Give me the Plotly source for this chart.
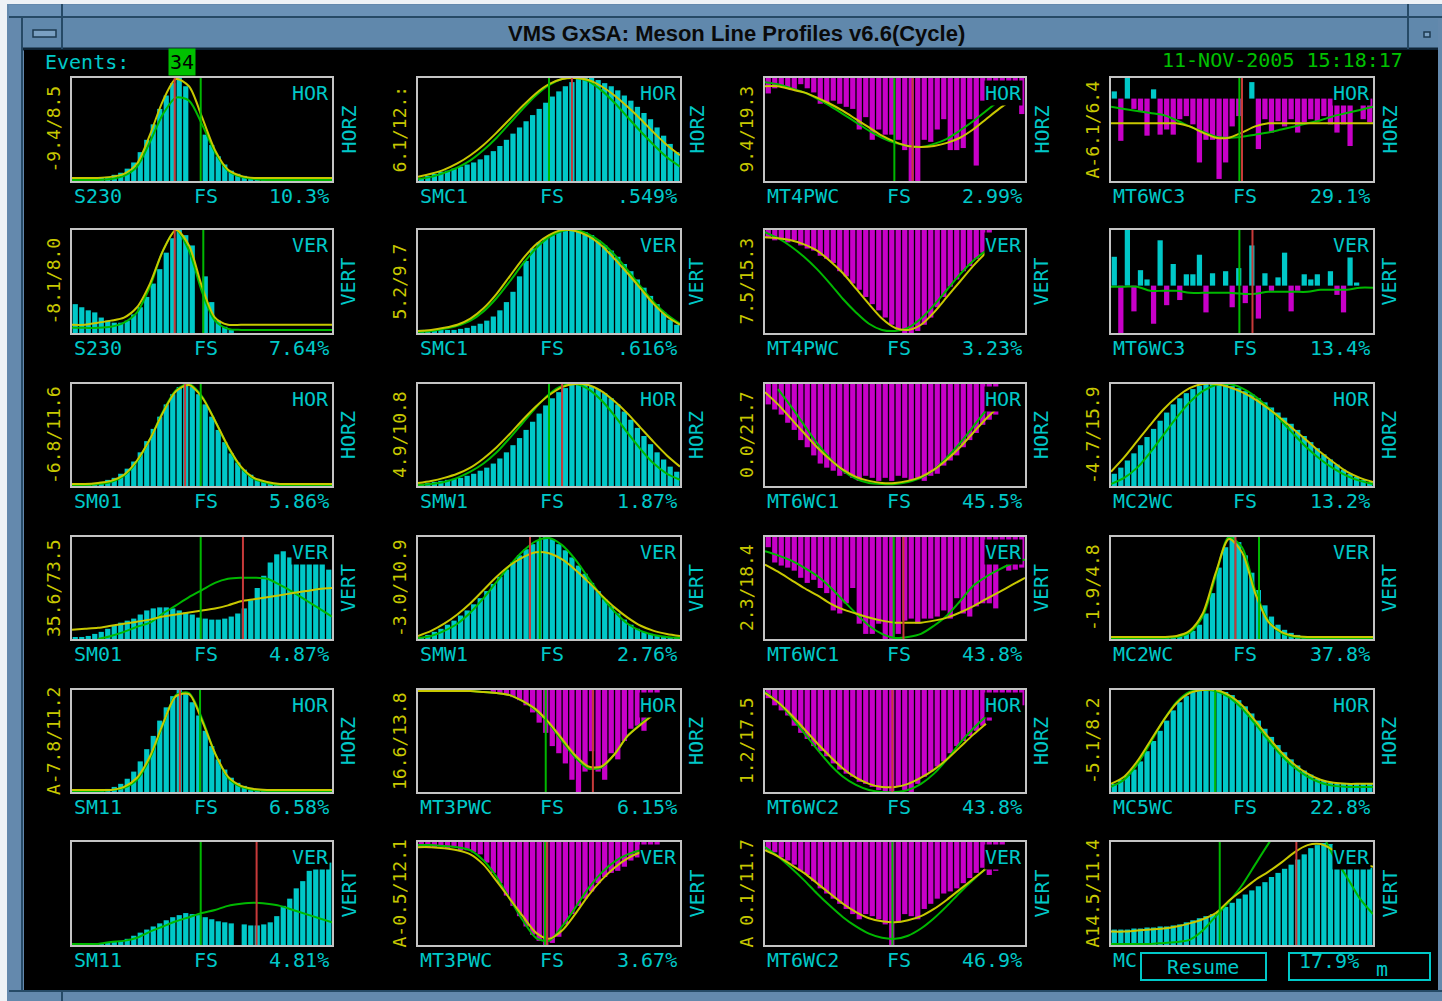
import plotly.graph_objects as go

# ---------------- DATA ----------------
# panel order: row-major, 6 rows x 4 columns
NAMES = ["S230", "SMC1", "MT4PWC", "MT6WC3",
         "S230", "SMC1", "MT4PWC", "MT6WC3",
         "SM01", "SMW1", "MT6WC1", "MC2WC",
         "SM01", "SMW1", "MT6WC1", "MC2WC",
         "SM11", "MT3PWC", "MT6WC2", "MC5WC",
         "SM11", "MT3PWC", "MT6WC2", "MC"]
PCTS = ["10.3%", ".549%", "2.99%", "29.1%",
        "7.64%", ".616%", "3.23%", "13.4%",
        "5.86%", "1.87%", "45.5%", "13.2%",
        "4.87%", "2.76%", "43.8%", "37.8%",
        "6.58%", "6.15%", "43.8%", "22.8%",
        "4.81%", "3.67%", "46.9%", ""]
RANGES = ["-9.4/8.5", "6.1/12.:", "9.4/19.3", "A-6.1/6.4",
          "-8.1/8.0", "5.2/9.7", "7.5/15.3", "",
          "-6.8/11.6", "4.9/10.8", "0.0/21.7", "-4.7/15.9",
          "35.6/73.5", "-3.0/10.9", "2.3/18.4", "-1.9/4.8",
          "A-7.8/11.2", "16.6/13.8", "1.2/17.5", "-5.1/8.2",
          "", "A-0.5/12.1", "A 0.1/11.7", "A14.5/11.4"]
PLANES = ["HOR", "VER", "HOR", "VER", "HOR", "VER"]
PLANE_SIDE = ["HORZ", "VERT", "HORZ", "VERT", "HORZ", "VERT"]

# bar zero level (fraction of panel height) and direction (1 = up, -1 = hanging down)
BASELINES = [0, 0, 1, 0.8,
             0, 0, 1, 0.46,
             0, 0, 1, 0,
             0, 0, 1, 0,
             0, 1, 1, 0,
             0, 1, 1, 0]
DIRS = [1, 1, -1, 1,
        1, 1, -1, 1,
        1, 1, -1, 1,
        1, 1, -1, 1,
        1, -1, -1, 1,
        1, -1, -1, 1]

# green / red marker positions (bin units)
GREEN_MARK = [19.8, 20.0, 19.9, 19.6,
              20.2, None, None, 19.6,
              19.8, 20.0, None, None,
              19.8, 18.6, 19.8, 22.6,
              19.7, 19.5, None, 15.9,
              19.8, 19.4, 19.6, 16.6]
RED_MARK = [15.8, 23.5, 22.7, 20.0,
            15.8, None, None, 21.6,
            17.4, 22.0, None, None,
            26.3, 17.1, 21.3, 19.0,
            16.6, 26.7, 19.6, None,
            28.4, 19.7, None, 28.3]

# histogram bins (percent of panel height)
bars_s230_h = [2,2,2,2,3,4,6,8,12,18,28,40,55,70,83,95,100,92,0,0,45,35,24,16,10,7,5,3,2,2,2,1,1,1,1,1,1,1,1,1]
bars_smc1_h = [3,5,7,9,10,12,14,16,18,21,25,29,34,40,46,52,58,64,70,76,82,87,92,96,99,100,100,98,95,92,88,83,78,72,66,60,52,44,36,28]
bars_mt4pwc_h = [15,10,8,10,12,6,10,14,25,25,22,25,28,30,50,38,60,50,55,55,60,70,100,100,60,62,50,40,70,70,68,40,85,22,25,25,15,18,20,35]
bars_mt6wc3_h = [7,-41,20,-10,-12,-36,9,-35,-30,-35,-20,-17,-25,-62,-40,-40,-78,-62,-27,-17,0,16,-49,-20,-33,-22,-27,-20,-33,-23,-20,-22,-17,-25,-33,-25,-46,-5,-20,-23]
bars_s230_v = [28,25,22,20,15,12,10,10,12,18,25,35,48,62,78,92,100,95,85,0,55,30,12,6,3,0,0,0,0,0,0,0,0,0,0,0,0,0,0,0]
bars_smc1_v = [3,3,3,3,3,3,4,5,7,9,12,16,22,30,40,55,70,82,88,92,95,98,100,100,100,98,95,90,85,80,74,67,60,52,44,36,28,20,13,8]
bars_mt4pwc_v = [8,10,8,12,10,15,18,20,25,28,32,40,45,52,58,65,72,78,85,92,97,100,100,98,92,85,75,65,55,48,40,35,28,22,18,0,0,0,0,0]
bars_mt6wc3_v = [28,-46,54,-25,15,6,-37,44,-19,21,-14,11,11,30,-26,12,0,14,-21,17,-17,39,-32,12,-5,8,32,-25,-5,11,6,11,0,14,-9,-26,32,3,0,0]
bars_sm01_h = [2,2,2,3,4,6,8,12,17,24,33,44,56,68,80,90,97,100,97,90,80,68,55,43,32,23,16,11,7,5,3,2,2,2,2,2,2,2,2,2]
bars_smw1_h = [2,3,4,5,6,7,8,10,12,15,18,22,27,33,40,47,55,63,71,79,86,92,96,99,100,100,98,95,91,86,80,73,65,57,49,41,33,26,19,14]
bars_mt6wc1_h = [20,25,30,38,45,55,62,70,78,82,85,90,88,92,95,90,92,95,92,95,90,92,95,92,95,90,88,80,75,70,62,55,48,40,35,30,0,0,0,0]
bars_mc2wc_h = [12,18,25,32,40,48,56,64,72,80,86,91,95,98,100,100,100,100,98,96,93,90,86,82,77,72,67,61,55,49,43,37,31,26,21,16,12,9,6,4]
bars_sm01_v = [1,2,3,5,7,10,13,16,18,20,24,28,30,31,31,30,28,26,24,21,20,19,19,20,22,25,30,38,50,62,75,83,86,80,79,79,79,79,75,68]
bars_smw1_v = [2,4,7,10,14,18,23,28,34,40,47,54,61,68,75,82,88,93,97,100,98,93,87,80,72,64,55,47,39,32,25,19,14,10,7,5,4,3,2,2]
bars_mt6wc1_v = [10,25,28,30,33,40,45,42,50,55,72,75,65,50,85,95,95,85,100,100,95,82,80,85,80,80,78,72,80,60,75,78,68,65,65,70,25,33,32,30]
bars_mc2wc_v = [1,1,1,1,1,1,1,1,2,2,3,5,8,14,25,45,70,90,100,95,82,65,48,33,22,14,9,6,4,3,2,2,2,2,2,2,2,2,2,2]
bars_sm11_h = [1,1,1,1,2,3,5,8,13,20,30,42,55,70,83,94,100,97,88,75,60,45,32,22,14,9,6,4,3,2,2,2,2,2,2,2,2,2,2,2]
bars_mt3pwc_h = [0,0,0,0,0,0,0,0,0,0,0,3,3,5,7,10,15,22,32,42,55,62,72,88,100,80,60,80,88,62,68,50,38,35,40,25,20,0,0,0]
bars_mt6wc2_h = [8,15,20,25,35,42,48,55,60,65,72,78,82,85,90,92,95,98,100,100,95,98,100,92,85,80,75,70,62,55,50,45,40,35,30,25,20,15,10,15]
bars_mc5wc_h = [8,12,16,22,30,40,50,60,70,80,88,94,98,100,100,100,100,98,95,90,84,77,70,62,54,46,39,32,26,21,17,13,11,9,8,8,8,8,8,8]
bars_sm11_v = [1,1,1,1,1,2,3,4,6,9,12,15,18,21,24,27,29,31,30,29,27,25,23,22,21,0,20,19,19,20,22,28,38,45,55,62,72,80,80,80]
bars_mt3pwc_v = [5,6,5,4,6,5,8,8,10,12,20,30,40,52,62,72,82,90,96,100,98,92,80,70,62,55,48,40,34,30,28,24,18,15,12,10,8,0,0,0]
bars_mt6wc2_v = [8,10,15,18,22,28,32,38,45,50,55,60,65,70,75,70,72,75,80,100,78,70,72,75,65,60,55,50,48,45,40,35,30,25,32,28,20,0,0,0]
bars_mc5wc_v = [15,15,15,16,16,17,17,18,18,19,20,22,24,26,28,30,33,37,41,45,49,53,57,61,66,70,74,78,83,88,94,97,99,98,90,80,79,78,76,75]

# fitted curves (percent of panel height), sampled every 2 bins
yel_s230_h = [3,3,3,4,7,17,45,78,99,92,62,30,11,5,3,3,3,3,3,3,3]
grn_s230_h = [1,1,1,2,5,14,38,65,81,78,55,28,10,4,2,1,1,1,1,1,1]
yel_smc1_h = [4,7,11,17,25,35,47,60,73,85,94,99,100,98,92,83,72,60,47,35,25]
grn_smc1_h = [2,4,8,13,20,30,42,56,70,83,93,99,100,97,88,76,62,48,35,23,14]
yel_mt4pwc_h = [92,92,89,86,81,75,68,60,52,44,38,34,33,34,37,42,50,60,70,79,None]
grn_mt4pwc_h = [96,94,90,86,80,73,65,57,49,42,37,34,33,36,41,49,58,68,78,None,None]
yel_mt6wc3_h = [56,56,56,56,56,56,53,47,42,42,47,53,56,56,56,56,56,56,56,56,56]
grn_mt6wc3_h = [72,70,68,66,64,59,53,48,43,42,43,45,47,50,53,56,59,63,66,69,72]
yel_s230_v = [8,8,10,12,15,25,48,80,100,85,45,15,8,8,8,8,8,8,8,8,8]
grn_s230_v = [5,5,5,6,10,20,45,80,100,80,40,12,4,3,3,3,3,3,3,3,3]
yel_smc1_v = [2,3,5,8,14,24,38,55,72,86,95,100,99,94,85,72,58,43,28,16,8]
grn_smc1_v = [1,2,4,7,12,21,34,50,67,82,93,99,100,96,88,76,61,45,30,18,9]
yel_mt4pwc_v = [93,92,90,86,80,70,58,43,28,14,5,3,8,20,35,50,65,78,None,None,None]
grn_mt4pwc_v = [98,92,84,74,62,48,33,20,9,3,2,5,14,27,42,57,70,80,None,None,None]
yel_mt6wc3_v = None
grn_mt6wc3_v = [45,45,45,41,41,41,39,39,39,39,38,38,40,40,40,40,42,42,42,44,44]
yel_sm01_h = [2,2,3,5,11,25,46,72,93,99,87,64,39,19,8,4,2,2,2,2,2]
grn_sm01_h = [1,1,2,4,10,24,46,73,94,100,88,64,38,18,7,3,1,1,1,1,1]
yel_smw1_h = [3,5,8,12,18,27,38,51,65,78,89,97,100,99,93,83,71,57,43,30,19]
grn_smw1_h = [1,2,4,8,14,22,33,47,62,77,90,98,100,95,84,69,52,36,22,12,6]
yel_mt6wc1_h = [92,80,66,52,38,26,16,9,5,3,3,5,9,16,26,38,52,66,78,None,None]
grn_mt6wc1_h = [None,95,78,60,42,27,15,7,3,2,2,4,8,16,28,42,58,74,88,None,None]
yel_mc2wc_h = [14,28,44,60,75,87,96,100,100,97,92,85,76,66,55,44,33,23,14,8,4]
grn_mc2wc_h = [2,8,18,33,50,67,82,93,99,100,96,88,77,64,50,37,26,17,10,5,2]
yel_sm01_v = [9,10,11,13,15,17,19,22,24,26,28,30,33,37,39,41,43,45,47,49,50]
grn_sm01_v = [None,None,0,3,7,12,16,25,33,41,48,55,59,60,60,59,53,46,38,30,22]
yel_smw1_v = [3,8,15,24,35,48,61,72,80,85,84,78,68,56,43,31,21,13,8,5,3]
grn_smw1_v = [1,3,8,15,26,40,56,72,86,96,99,92,78,60,42,27,15,8,4,2,1]
yel_mt6wc1_v = [73,66,58,50,43,35,29,25,21,18,16,16,16,18,21,26,32,39,46,53,60]
grn_mt6wc1_v = [86,82,77,70,62,51,38,25,13,5,1,2,5,13,23,37,52,61,68,74,78]
yel_mc2wc_v = [2,2,2,2,2,3,8,25,65,98,85,45,17,7,3,2,2,2,2,2,2]
grn_mc2wc_v = [1,1,1,1,1,2,6,22,62,100,90,48,18,6,2,1,1,1,1,1,1]
yel_sm11_h = [2,2,2,2,5,14,35,67,94,96,70,38,15,6,3,2,2,2,2,2,2]
grn_sm11_h = [1,1,1,2,4,12,33,66,95,97,72,38,14,5,2,1,1,1,1,1,1]
yel_mt3pwc_h = [99,99,99,99,99,98,97,95,89,81,68,52,36,25,25,37,55,66,76,None,None]
grn_mt3pwc_h = [99,99,99,99,99,98,97,95,89,80,67,50,34,23,24,37,55,67,77,None,None]
yel_mt6wc2_h = [97,88,76,62,48,35,23,14,8,5,5,8,14,22,32,44,56,67,None,None,None]
grn_mt6wc2_h = [98,88,74,58,42,27,15,7,2,0,0,2,8,18,32,48,62,74,84,92,None]
yel_mc5wc_h = [8,15,30,50,70,87,97,100,100,95,85,70,54,39,27,18,12,9,8,8,8]
grn_mc5wc_h = [5,12,27,48,70,88,98,100,99,93,82,67,51,36,24,15,9,6,5,5,5]
yel_sm11_v = None
grn_sm11_v = [1,1,1,3,4,7,13,18,23,27,31,34,38,40,41,40,38,34,30,26,22]
yel_mt3pwc_v = [95,95,94,92,88,78,62,45,28,12,6,14,30,48,63,75,84,90,93,None,None]
grn_mt3pwc_v = [97,97,96,95,92,82,66,45,24,7,4,18,36,55,70,81,88,92,94,None,None]
yel_mt6wc2_v = [92,86,78,70,60,50,40,32,26,23,22,24,28,35,44,54,64,74,82,None,None]
grn_mt6wc2_v = [95,86,75,63,50,38,27,18,11,7,6,9,16,26,38,51,63,74,82,None,None]
yel_mc5wc_v = [13,13,14,15,16,18,21,25,31,43,53,63,71,80,90,97,98,92,85,80,76]
grn_mc5wc_v = [1,1,1,1,2,3,5,14,28,42,58,78,98,115,125,125,110,86,66,45,30]

BARS = [bars_s230_h, bars_smc1_h, bars_mt4pwc_h, bars_mt6wc3_h,
        bars_s230_v, bars_smc1_v, bars_mt4pwc_v, bars_mt6wc3_v,
        bars_sm01_h, bars_smw1_h, bars_mt6wc1_h, bars_mc2wc_h,
        bars_sm01_v, bars_smw1_v, bars_mt6wc1_v, bars_mc2wc_v,
        bars_sm11_h, bars_mt3pwc_h, bars_mt6wc2_h, bars_mc5wc_h,
        bars_sm11_v, bars_mt3pwc_v, bars_mt6wc2_v, bars_mc5wc_v]
YEL = [yel_s230_h, yel_smc1_h, yel_mt4pwc_h, yel_mt6wc3_h,
       yel_s230_v, yel_smc1_v, yel_mt4pwc_v, yel_mt6wc3_v,
       yel_sm01_h, yel_smw1_h, yel_mt6wc1_h, yel_mc2wc_h,
       yel_sm01_v, yel_smw1_v, yel_mt6wc1_v, yel_mc2wc_v,
       yel_sm11_h, yel_mt3pwc_h, yel_mt6wc2_h, yel_mc5wc_h,
       yel_sm11_v, yel_mt3pwc_v, yel_mt6wc2_v, yel_mc5wc_v]
GRN = [grn_s230_h, grn_smc1_h, grn_mt4pwc_h, grn_mt6wc3_h,
       grn_s230_v, grn_smc1_v, grn_mt4pwc_v, grn_mt6wc3_v,
       grn_sm01_h, grn_smw1_h, grn_mt6wc1_h, grn_mc2wc_h,
       grn_sm01_v, grn_smw1_v, grn_mt6wc1_v, grn_mc2wc_v,
       grn_sm11_h, grn_mt3pwc_h, grn_mt6wc2_h, grn_mc5wc_h,
       grn_sm11_v, grn_mt3pwc_v, grn_mt6wc2_v, grn_mc5wc_v]

NBINS = 40
BAR_X = [i + 0.5 for i in range(NBINS)]
CURVE_X = list(range(0, NBINS + 1, 2))

TITLE = "VMS GxSA: Meson Line Profiles v6.6(Cycle)"
EVENTS = "34"
STAMP = "11-NOV-2005 15:18:17"

# ---------------- LAYOUT / STYLE ----------------
W, H = 1442, 1001
COL_X = [(72, 332), (418, 680), (765, 1025), (1111, 1373)]
ROW_Y = [(78, 181), (230, 333), (384, 486), (537, 639), (690, 792), (842, 945)]

CYAN = "#00c8c8"
MAG = "#c800c8"
GRNC = "#00b800"
YELC = "#c8c800"
REDC = "#c83a3a"
GREY = "#c4c4c4"
FRAME = "#6489ad"
MONO = "DejaVu Sans Mono"
FS = 20


def X(p):
    return p / W


def Y(p):
    return 1 - p / H


fig = go.Figure()
layout = {}
ann = []
shapes = []


def text(px, py, s, font, xanchor="center", yanchor="middle", **kw):
    ann.append(dict(x=X(px), y=Y(py), xref="paper", yref="paper", text=s,
                    showarrow=False, xanchor=xanchor, yanchor=yanchor,
                    font=font, **kw))


for r in range(6):
    for c in range(4):
        k = r * 4 + c
        n = k + 1
        xa = "x" if n == 1 else f"x{n}"
        ya = "y" if n == 1 else f"y{n}"
        x0, x1 = COL_X[c]
        y0, y1 = ROW_Y[r]
        ax = dict(showline=True, mirror=True, linecolor=GREY, linewidth=2,
                  showgrid=False, zeroline=False, showticklabels=False,
                  ticks="", fixedrange=True)
        layout["xaxis" if n == 1 else f"xaxis{n}"] = dict(
            domain=[X(x0), X(x1)], range=[0, NBINS], anchor=ya, **ax)
        layout["yaxis" if n == 1 else f"yaxis{n}"] = dict(
            domain=[Y(y1), Y(y0)], range=[0, 1], anchor=xa, **ax)

        ys = [DIRS[k] * v / 100 for v in BARS[k]]
        cols = [CYAN if v > 0 else MAG for v in ys]
        fig.add_trace(go.Bar(x=BAR_X, y=ys, base=BASELINES[k], width=0.8,
                             marker=dict(color=cols, line=dict(width=0)),
                             xaxis=xa, yaxis=ya, showlegend=False,
                             hoverinfo="skip"))
        for curve, col in ((GRN[k], GRNC), (YEL[k], YELC)):
            if curve is None:
                continue
            fig.add_trace(go.Scatter(
                x=CURVE_X, y=[None if v is None else v / 100 for v in curve],
                mode="lines", line=dict(color=col, width=2, shape="spline",
                                        smoothing=0.8),
                xaxis=xa, yaxis=ya, showlegend=False, hoverinfo="skip"))
        for mark, col in ((GREEN_MARK[k], GRNC), (RED_MARK[k], REDC)):
            if mark is None:
                continue
            fig.add_trace(go.Scatter(x=[mark, mark], y=[0, 1], mode="lines",
                                     line=dict(color=col, width=2),
                                     xaxis=xa, yaxis=ya, showlegend=False,
                                     hoverinfo="skip"))

        # texts
        tf = dict(family=MONO, size=FS, color=CYAN)
        text(x1 - 2, y0 + 2, PLANES[r], tf, xanchor="right", yanchor="top",
             bgcolor="black", borderpad=0)
        text(x1 + 16, (y0 + y1) / 2, PLANE_SIDE[r], tf, textangle=-90)
        if RANGES[k]:
            text(x0 - 19, (y0 + y1) / 2, RANGES[k],
                 dict(family=MONO, size=18, color=YELC), textangle=-90)
        ty = y1 + 15
        text(x0, ty, NAMES[k], tf, xanchor="left")
        if PCTS[k]:
            text(x0 + 134, ty, "FS", tf)
            text(x1 - 1, ty, PCTS[k], tf, xanchor="right")

# header texts
text(736, 34, TITLE, dict(family="Liberation Sans", size=22, color="#0a0a0a",
                          weight="bold"))
text(43, 62, "Events:", dict(family=MONO, size=FS, color=CYAN), xanchor="left")
text(182, 62, EVENTS, dict(family=MONO, size=FS, color="black"),
     bgcolor="#00c000", borderpad=1)
text(1405, 60, STAMP, dict(family=MONO, size=FS, color="#00c000"),
     xanchor="right")
# bottom-right controls
text(1203, 967, "Resume", dict(family=MONO, size=FS, color=CYAN))
text(1297, 961, "17.9%", dict(family=MONO, size=FS, color=CYAN),
     xanchor="left")
text(1374, 969, "m", dict(family=MONO, size=FS, color=CYAN), xanchor="left")


def rect(xa, ya, xb, yb, fill, line=None, lw=0, layer="below"):
    shapes.append(dict(type="rect", xref="paper", yref="paper",
                       x0=X(xa), x1=X(xb), y0=Y(yb), y1=Y(ya),
                       fillcolor=fill, layer=layer,
                       line=dict(width=lw, color=line or fill)))


def seg(xa, ya, xb, yb, col, lw=2, layer="below"):
    shapes.append(dict(type="line", xref="paper", yref="paper",
                       x0=X(xa), x1=X(xb), y0=Y(ya), y1=Y(yb), layer=layer,
                       line=dict(color=col, width=lw)))


# window frame
rect(0, 0, W, H, "#eef2f6")
rect(7, 4, W, H, FRAME)
rect(9, 5, W, 16, "#6b92b7")
rect(24, 19, 1438, 48, "#6088ac")
seg(9, 17, W, 17, "#264a66", 2)
seg(22, 49, 1438, 49, "#0f2436", 3)
seg(62, 4, 62, 49, "#264a66", 2)
seg(1408, 4, 1408, 49, "#264a66", 2)
seg(22, 17, 22, 990, "#264a66", 2)
seg(9, 991, W, 991, "#264a66", 2)
seg(62, 991, 62, H, "#264a66", 2)
rect(24, 50, 1438, 990, "black")
rect(33, 30, 56, 37, "#7aa0c2", "#1d3a50", 1.5)
rect(1424, 32, 1430, 37, "#7aa0c2", "#1d3a50", 1.5)
# control boxes
rect(1141, 953, 1266, 980, "black", CYAN, 2, "above")
rect(1289, 953, 1430, 980, "black", CYAN, 2, "above")

layout.update(dict(
    width=W, height=H, margin=dict(l=0, r=0, t=0, b=0),
    paper_bgcolor="#eef2f6", plot_bgcolor="black",
    barmode="overlay", showlegend=False,
    annotations=ann, shapes=shapes))
fig.update_layout(**layout)
fig.write_html("out.html",
               config={"displayModeBar": False},
               post_script="document.body.style.margin='0';"
                           "document.body.style.overflow='hidden';")
